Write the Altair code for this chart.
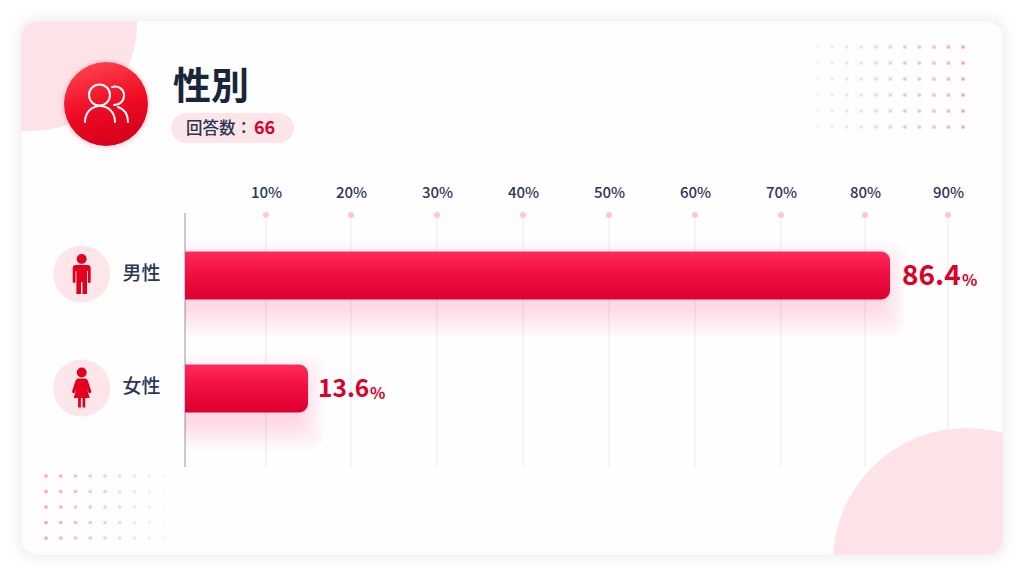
import altair as alt
import pandas as pd

# ---- data
categories = ["男性", "女性"]
percentages = [86.4, 13.6]
tick_values = [10, 20, 30, 40, 50, 60, 70, 80, 90]
title_text = "性別"
answer_label = "回答数："
answer_count = "66"

# ---- styling / layout (screen pixels of the reference)
CARD_L, CARD_T, CARD_R, CARD_B = 21, 21, 1003, 555
W, H = CARD_R - CARD_L, CARD_B - CARD_T
FONT = "Noto Sans CJK JP"
RED = "#dc0028"
NAVY = "#2c3557"
PINK = "#fde3e8"
one = pd.DataFrame({"a": [0]})


def px(v):
    return alt.value(v - CARD_L)


def py(v):
    return alt.value(v - CARD_T)


def box(l, t, r, b, **mark):
    return alt.Chart(one).mark_rect(**mark).encode(x=px(l), x2=px(r), y=py(t), y2=py(b))


def disc(cx, cy, d, **mark):
    mark.setdefault("opacity", 1)
    return alt.Chart(one).mark_circle(size=d * d, **mark).encode(x=px(cx), y=py(cy))


def glyph(cx, cy, path, **mark):
    # size 4 makes one path unit equal to one pixel
    return alt.Chart(one).mark_point(shape=path, size=4, opacity=1, **mark).encode(x=px(cx), y=py(cy))


def label(x, y, text, size, color, weight="normal", align="left"):
    return alt.Chart(pd.DataFrame({"t": [text]})).mark_text(
        font=FONT, fontSize=size, color=color, fontWeight=weight, align=align, baseline="middle"
    ).encode(x=px(x), y=py(y), text="t:N")


layers = []

# card
layers.append(box(CARD_L, CARD_T, CARD_R, CARD_B, color="#fefefe"))

# corner blobs, clipped to the card
layers.append(disc(30, 24, 214, color=PINK, clip=True))
layers.append(disc(967, 562, 268, color=PINK, clip=True))


# dot patterns
def dots(x0, dx, nx, y0, dy, ny, o0, o1):
    rows = []
    for j in range(ny):
        for i in range(nx):
            rows.append({
                "x": x0 + dx * i - CARD_L,
                "y": y0 + dy * j - CARD_T,
                "o": o0 + (o1 - o0) * i / (nx - 1),
            })
    return alt.Chart(pd.DataFrame(rows)).mark_circle(size=14, color="#ff7f98").encode(
        x=alt.X("x:Q", scale=None, axis=None),
        y=alt.Y("y:Q", scale=None, axis=None),
        opacity=alt.Opacity("o:Q", scale=None, legend=None),
    )


layers.append(dots(803, 14.55, 12, 47, 16, 6, 0.06, 0.7))
layers.append(dots(46, 14.75, 9, 476, 15.5, 5, 0.7, 0.08))

# card edge: nested rings give the soft shadow and round the corners off
ring_cols = ["#fefefe", "#fdfdfd", "#fcfcfd", "#fbfbfc", "#f9f9fa", "#f7f7f8", "#f4f4f6"]
for k, c in reversed(list(enumerate(ring_cols))):
    o = 1 + (len(ring_cols) - 1 - k) * 2
    layers.append(box(CARD_L - o, CARD_T - o, CARD_R + o, CARD_B + o, fillOpacity=0, stroke=c,
                      strokeWidth=3, cornerRadius=16 + o))

# grid: ticks, dots and axis labels on their own scale
grid_range = [245, 330, 416, 502, 588, 674, 760, 844, 927]
grid_x = alt.Scale(domain=tick_values, range=grid_range, zero=False, nice=False)
tick_df = pd.DataFrame({"v": tick_values})
layers.append(
    alt.Chart(tick_df).mark_rule(color="#e8eaf2", strokeWidth=1).encode(
        x=alt.X("v:Q", scale=grid_x,
                axis=alt.Axis(orient="top", values=tick_values, labelExpr="datum.value + '%'", title=None,
                              grid=False, domain=False, ticks=False, labelPadding=0, offset=-179, zindex=1,
                              labelFlush=False, labelOverlap=False,
                              labelFont=FONT, labelFontSize=15, labelColor=NAVY, labelFontWeight=500,
                              labelAngle=0)),
        y=py(215), y2=py(467),
    )
)
layers.append(
    alt.Chart(tick_df).mark_circle(size=36, color="#fcc8d3", opacity=1).encode(
        x=alt.X("v:Q", scale=grid_x, axis=None), y=py(215)
    )
)

# baseline
layers.append(alt.Chart(one).mark_rule(color="#b4b8cb", strokeWidth=1.5).encode(
    x=px(185), y=py(213), y2=py(467)))

# bars: their ends in the reference do not sit on the grid's scale, so they have their own
bar_df = pd.DataFrame({"cat": categories, "start": [0, 0], "value": percentages})
bar_domain = [0] + sorted(percentages)
bar_x = alt.Scale(domain=bar_domain, range=[164, 287, 869], zero=False, nice=False)
bar_y = alt.Scale(domain=categories, range=[198, 424], paddingInner=0, paddingOuter=0)
BAR = 48

# soft shadow below the bars
for k in range(12):
    layers.append(
        alt.Chart(bar_df).mark_bar(size=BAR - 6 + k * 5, yOffset=14, x2Offset=k * 2 - 6, color="#f02838",
                                   opacity=0.012, cornerRadiusTopRight=14, cornerRadiusBottomRight=14).encode(
            x=alt.X("start:Q", scale=bar_x, axis=None),
            x2="value:Q",
            y=alt.Y("cat:N", scale=bar_y, axis=None),
        )
    )

bar_fill = alt.Gradient(
    gradient="linear", x1=0, x2=0, y1=0, y2=1,
    stops=[alt.GradientStop(offset=0, color="#ff2a5c"),
           alt.GradientStop(offset=0.45, color="#f20f42"),
           alt.GradientStop(offset=1, color="#dc0030")],
)
layers.append(
    alt.Chart(bar_df).mark_bar(size=BAR, color=bar_fill, cornerRadiusTopRight=9, cornerRadiusBottomRight=9).encode(
        x=alt.X("start:Q", scale=bar_x, axis=None),
        x2="value:Q",
        y=alt.Y("cat:N", scale=bar_y,
                axis=alt.Axis(orient="left", title=None, domain=False, ticks=False, grid=False, offset=-164,
                              labelPadding=25, labelFont=FONT, labelFontSize=19, labelColor=NAVY,
                              labelFontWeight=500, labelOffset=-1.5, zindex=1)),
    )
)

# value labels
label_style = {categories[0]: (28, 12, 72), categories[1]: (24.5, 10, 62)}
for cat, (fs, dx, dxp) in label_style.items():
    sel = bar_df[bar_df["cat"] == cat]
    base = alt.Chart(sel).encode(
        x=alt.X("value:Q", scale=bar_x, axis=None),
        y=alt.Y("cat:N", scale=bar_y, axis=None),
    )
    layers.append(base.mark_text(font=FONT, fontSize=fs, fontWeight="bold", color=RED, align="left",
                                 baseline="middle", dx=dx, dy=1).encode(text=alt.Text("value:Q", format=".1f")))
    layers.append(base.mark_text(font=FONT, fontSize=16, fontWeight="bold", color=RED, align="left",
                                 baseline="middle", dx=dxp, dy=5).encode(text=alt.value("%")))

# header badge
for d, o in [(94, 0.02), (91, 0.03), (88, 0.04)]:
    layers.append(disc(106, 105, d, color="#f0193f", opacity=o))
badge_fill = alt.Gradient(
    gradient="linear", x1=0.3, x2=0.6, y1=0, y2=1,
    stops=[alt.GradientStop(offset=0, color="#ff4250"),
           alt.GradientStop(offset=0.55, color="#ee0a22"),
           alt.GradientStop(offset=1, color="#d4001c")],
)
layers.append(disc(106, 104, 84, color=badge_fill))
front_head = "M-17,-9 a10.5,10.5 0 1 0 21,0 a10.5,10.5 0 1 0 -21,0"
front_body = "M-21,18 C-21,8 -14,2 -6,2 C2,2 9,8 9,18"
back_head = "M6,-17 C12,-19 18,-15 18,-8.5 C18,-3 14,1 8,1"
back_body = "M12,3 C18,5 22,10 22,18"
for p in [front_head, front_body, back_head, back_body]:
    layers.append(glyph(106, 104, p, filled=False, stroke="white", strokeWidth=2, strokeCap="round"))

# title and answer pill
layers.append(label(173, 88, title_text, 38, "#1b2539", "bold"))
layers.append(box(171, 113, 294, 143, color="#fde6ea", cornerRadius=15))
layers.append(label(186, 129, answer_label, 16.5, "#2a3553", 500))
layers.append(label(254, 129, answer_count, 18, RED, "bold"))

# category badges
male_body = ("M-6,-9 H6 Q9,-9 9,-6 V7.5 Q9,9 7.6,9 Q6.2,9 6.2,7.5 V-3 H5.3 V20 H0.7 V8 H-0.7 V20 H-5.3 V-3 H-6.2 "
             "V7.5 Q-6.2,9 -7.6,9 Q-9,9 -9,7.5 V-6 Q-9,-9 -6,-9 Z")
female_body = ("M-3.5,-9.5 H3.5 Q5.5,-9.5 6.3,-7 L9.5,3 Q10,5 8.3,5.3 Q7,5.5 6.5,4 L5,0 L8,10 H3.6 V19.5 H0.8 V10 "
               "H-0.8 V19.5 H-3.6 V10 H-8 L-5,0 L-6.5,4 Q-7,5.5 -8.3,5.3 Q-10,5 -9.5,3 L-6.3,-7 Q-5.5,-9.5 -3.5,-9.5 Z")
for cy, head_y, body in [(274, 259, male_body), (388, 372.5, female_body)]:
    layers.append(disc(81.7, cy, 57, color="#fde6ea"))
    layers.append(disc(81.7, head_y, 10, color="#e3001f"))
    layers.append(glyph(81.7, cy, body, filled=True, color="#e3001f"))

chart = (
    alt.layer(*layers)
    .resolve_scale(x="independent", y="independent", color="independent", opacity="independent")
    .properties(
        width=W,
        height=H,
        padding={"left": 13, "top": 13, "right": 13, "bottom": 13},
        autosize=alt.AutoSizeParams(type="none", contains="content"),
        background="#ffffff",
    )
    .configure_view(stroke=None)
)

chart.save("out.html", embed_options={"renderer": "svg", "actions": False})
